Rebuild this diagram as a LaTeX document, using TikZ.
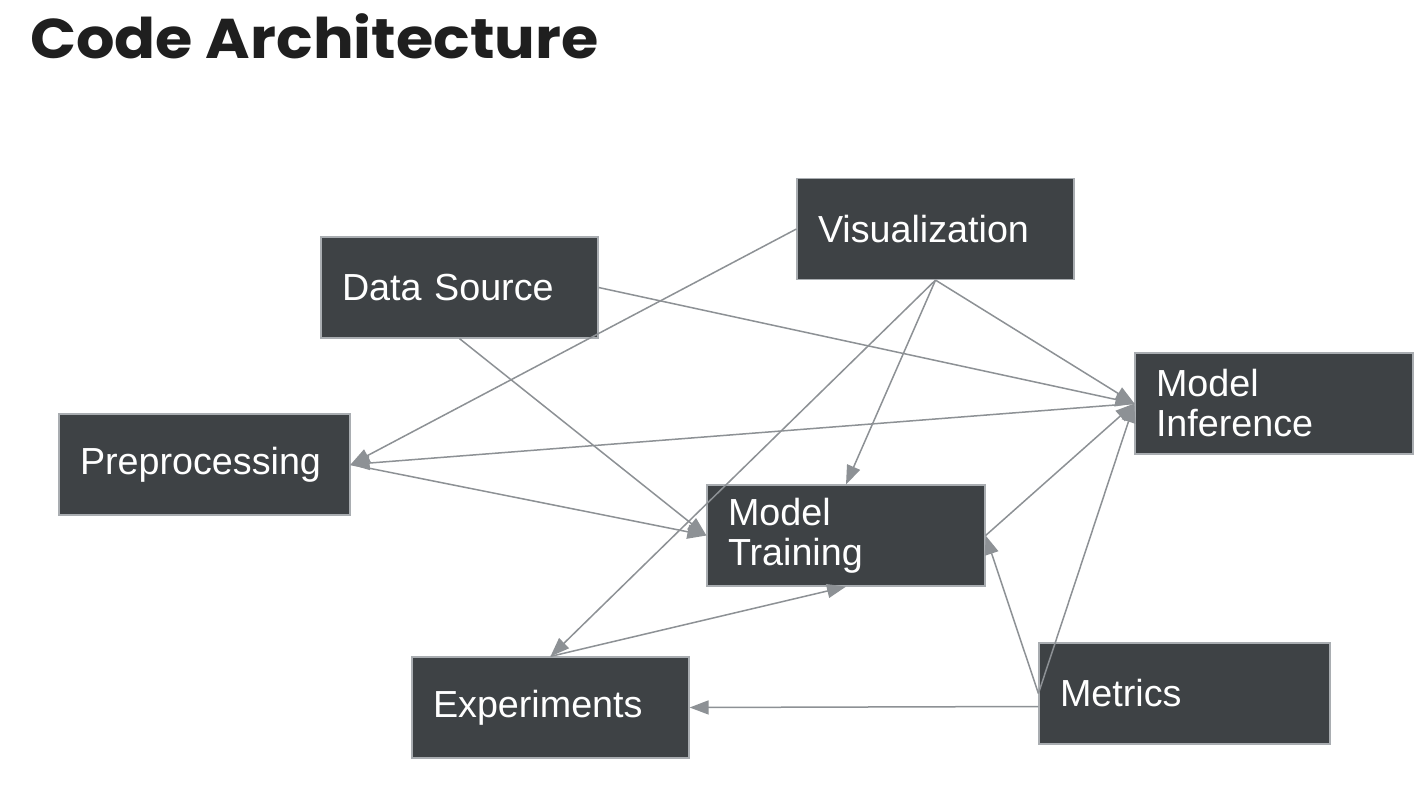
\documentclass[tikz,border=0pt]{standalone}
\usepackage{fontspec}
\setmainfont{Liberation Sans}
\newfontfamily\titlefont{Poppins}
\usetikzlibrary{arrows.meta}
\definecolor{boxfill}{HTML}{3E4245}
\definecolor{boxline}{HTML}{A9ADB1}
\definecolor{edgecol}{HTML}{8D9195}
\tikzset{
  box/.style={draw=boxline, line width=1.2pt, fill=boxfill, text=white,
    minimum height=101pt, inner xsep=21pt, inner ysep=0pt, align=left,
    font=\fontsize{37.7}{40}\selectfont},
  conn/.style={draw=edgecol, line width=1.5pt,
    -{Triangle[length=19pt,width=14pt]}},
}
\begin{document}
\begin{tikzpicture}[x=1pt,y=-1pt]
\useasboundingbox (0,0) rectangle (1424,801);
\fill[white] (0,0) rectangle (1424,801);
\node[anchor=base west, inner sep=0pt, font=\titlefont\bfseries\fontsize{56}{60}\selectfont, text=black!88] (title) at (30,58) {\scalebox{1.08}[1]{Code Architecture}};

\node[box, minimum width=277pt, text width=235pt] (vis) at (935.5,229) {Visualization};
\node[box, minimum width=277pt, text width=235pt] (ds) at (459.5,287.5) {Data Source};
\node[box, minimum width=278pt, text width=236pt] (mi) at (1274,403.5) {Model\\Inference};
\node[box, minimum width=291pt, text width=249pt] (prep) at (204.5,464.5) {Preprocessing};
\node[box, minimum width=278pt, text width=236pt] (mt) at (846,535.5) {Model\\Training};
\node[box, minimum width=277pt, text width=235pt] (exp) at (550.5,707.5) {Experiments};
\node[box, minimum width=291pt, text width=249pt] (met) at (1184.5,693.5) {Metrics};

\coordinate (metlow) at ([yshift=-13pt]met.west);

\draw[conn] (vis.west) -- (prep.east);
\draw[conn] (mi.west) -- (prep.east);
\draw[conn] (ds.east) -- (mi.west);
\draw[conn] (ds.south) -- (mt.west);
\draw[conn] (prep.east) -- (mt.west);
\draw[conn] (vis.south) -- (mt.north);
\draw[conn] (vis.south) -- (exp.north);
\draw[conn] (vis.south) -- (mi.west);
\draw[conn] (mt.east) -- (mi.west);
\draw[conn] (met.west) -- (mt.east);
\draw[conn] (met.west) -- (mi.west);
\draw[conn] (metlow) -- (exp.east);
\draw[conn] (exp.north) -- (mt.south);
\end{tikzpicture}
\end{document}
